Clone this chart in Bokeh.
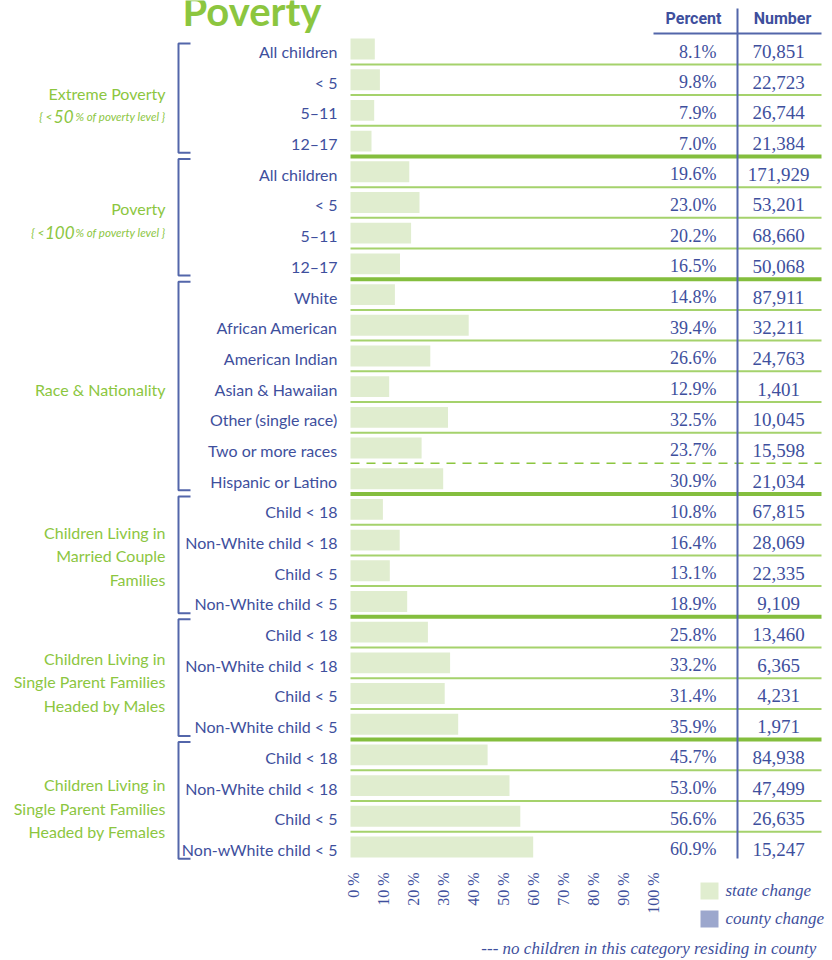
import numpy as np
from bokeh.plotting import figure
from bokeh.models import Range1d
from bokeh.core.properties import value
from bokeh.embed import file_html
from bokeh.resources import INLINE

# ---------------- data ----------------
categories = [
    "All children", "< 5", "5\u201311", "12\u201317",
    "All children", "< 5", "5\u201311", "12\u201317",
    "White", "African American", "American Indian", "Asian & Hawaiian",
    "Other (single race)", "Two or more races", "Hispanic or Latino",
    "Child < 18", "Non-White child < 18", "Child < 5", "Non-White child < 5",
    "Child < 18", "Non-White child < 18", "Child < 5", "Non-White child < 5",
    "Child < 18", "Non-White child < 18", "Child < 5", "Non-wWhite child < 5",
]
state_pct = [
    8.1, 9.8, 7.9, 7.0,
    19.6, 23.0, 20.2, 16.5,
    14.8, 39.4, 26.6, 12.9, 32.5, 23.7, 30.9,
    10.8, 16.4, 13.1, 18.9,
    25.8, 33.2, 31.4, 35.9,
    45.7, 53.0, 56.6, 60.9,
]
child_counts = [
    70851, 22723, 26744, 21384,
    171929, 53201, 68660, 50068,
    87911, 32211, 24763, 1401, 10045, 15598, 21034,
    67815, 28069, 22335, 9109,
    13460, 6365, 4231, 1971,
    84938, 47499, 26635, 15247,
]
group_first = [0, 4, 8, 15, 19, 23]
group_last = [3, 7, 14, 18, 22, 26]
group_lines = [
    ["Extreme Poverty"],
    ["Poverty"],
    ["Race & Nationality"],
    ["Children Living in", "Married Couple", "Families"],
    ["Children Living in", "Single Parent Families", "Headed by Males"],
    ["Children Living in", "Single Parent Families", "Headed by Females"],
]
group_sub_numbers = ["50", "100"]
dashed_after = ["Two or more races"]
tick_values = [0, 10, 20, 30, 40, 50, 60, 70, 80, 90, 100]
tick_labels = [f"{t} %" for t in tick_values]
legend_labels = ["state change", "county change"]
footnote = "---  no children in this category residing in county"

# ---------------- style ----------------
GREEN = "#8cc63f"
GREEN_THIN = "#a5d26c"
GREEN_THICK = "#84be3e"
BAR = "#e0edcf"
COUNTY = "#9ca7cd"
BLUE = "#3e4f9d"
BLUE_LINE = "#5366aa"
SANS = value("Lato")
SERIF = value("Liberation Serif")
HEAD = value("Roboto")

W, H = 832, 960
ROW = 30.69


def PX(ix):
    return (ix - 350) / 3.0


def PY(iy):
    return (iy - 51) / ROW


p = figure(width=W, height=H, output_backend="svg", toolbar_location=None,
           x_axis_type=None, y_axis_type=None, min_border=0,
           x_range=Range1d(PX(0), PX(W)),
           y_range=Range1d(PY(H), PY(0)))
p.outline_line_color = None
p.background_fill_color = "white"
p.border_fill_color = "white"

n = len(categories)
rows = np.arange(n)

# title and headers
p.text(x=[PX(182)], y=[PY(10)], text=["Poverty"], text_font=SANS,
       text_font_size="40px", text_font_style="bold", text_color=GREEN,
       text_align="left", text_baseline="middle")
p.text(x=[PX(693), PX(782)], y=[PY(18), PY(18)], text=["Percent", "Number"],
       text_font=HEAD, text_font_size="16px", text_font_style="bold",
       text_color=BLUE, text_align="center", text_baseline="middle")

# bars
p.hbar(y=rows - 0.08, left=0, right=state_pct, height=0.68,
       fill_color=BAR, line_color=None)

# separators
thin_y, thick_y, dash_y = [], [], []
for r in range(n - 1):
    yy = r + 0.42
    if r in group_last:
        thick_y.append(yy)
    elif categories[r] in dashed_after:
        dash_y.append(yy)
    else:
        thin_y.append(yy)
x_left, x_right = PX(350), PX(821)
p.segment(x0=[x_left] * len(thin_y), x1=[x_right] * len(thin_y), y0=thin_y, y1=thin_y,
          line_color=GREEN_THIN, line_width=2)
p.segment(x0=[x_left] * len(thick_y), x1=[x_right] * len(thick_y), y0=thick_y, y1=thick_y,
          line_color=GREEN_THICK, line_width=4)
p.segment(x0=[x_left] * len(dash_y), x1=[x_right] * len(dash_y), y0=dash_y, y1=dash_y,
          line_color=GREEN, line_width=1.5, line_dash="9 7")

# table lines
p.segment(x0=[PX(737)], x1=[PX(737)], y0=[PY(8)], y1=[PY(858)],
          line_color=BLUE_LINE, line_width=2)
p.segment(x0=[PX(653)], x1=[PX(821)], y0=[PY(33)], y1=[PY(33)],
          line_color=BLUE_LINE, line_width=2)

# row labels
p.text(x=[PX(337)] * n, y=rows, text=categories, text_font=SANS,
       text_font_size="16px", text_color=BLUE, text_align="right",
       text_baseline="middle")

# table values
p.text(x=[PX(716)] * n, y=rows, text=[f"{v:.1f}%" for v in state_pct],
       text_font=SERIF, text_font_size="18px", text_color=BLUE,
       text_align="right", text_baseline="middle")
p.text(x=[PX(778)] * n, y=rows, text=[f"{c:,}" for c in child_counts],
       text_font=SERIF, text_font_size="19px", text_color=BLUE,
       text_align="center", text_baseline="middle")

# brackets
bxs, bys = [], []
for a, b in zip(group_first, group_last):
    top = a - 0.5 if a > 0 else a - 0.26
    bot = b + 0.3
    bxs.append([PX(190), PX(178), PX(178), PX(190)])
    bys.append([top, top, bot, bot])
p.multi_line(xs=bxs, ys=bys, line_color=BLUE_LINE, line_width=2)

# group labels
line_gap = 23.5 / ROW
center_shift = [0.24, 0.0, 0.0, -0.07, 0.03, 0.16]
gx, gy, gt = [], [], []
sub_y = []
for gi, (a, b) in enumerate(zip(group_first, group_last)):
    lines = group_lines[gi]
    nl = len(lines) + (1 if gi < len(group_sub_numbers) else 0)
    c = (a + b) / 2 + center_shift[gi]
    for li in range(nl):
        yy = c + (li - (nl - 1) / 2) * line_gap
        if li < len(lines):
            gx.append(PX(165))
            gy.append(yy)
            gt.append(lines[li])
        else:
            sub_y.append(yy)
p.text(x=gx, y=gy, text=gt, text_font=SANS, text_font_size="16px",
       text_color=GREEN, text_align="right", text_baseline="middle")

num_right = [PX(73), PX(74)]
pre_right = [PX(52), PX(44)]
p.text(x=[PX(75)] * len(sub_y), y=sub_y, text=["% of poverty level }"] * len(sub_y),
       text_font=SANS, text_font_size="11.5px", text_font_style="italic",
       text_color=GREEN, text_align="left", text_baseline="middle")
p.text(x=num_right, y=sub_y, text=group_sub_numbers,
       text_font=SANS, text_font_size="17px", text_font_style="italic",
       text_color=GREEN, text_align="right", text_baseline="middle")
p.text(x=pre_right, y=sub_y, text=["{ <"] * len(sub_y),
       text_font=SANS, text_font_size="12px", text_font_style="italic",
       text_color=GREEN, text_align="right", text_baseline="middle")

# tick labels (rotated)
p.text(x=tick_values, y=[PY(872)] * len(tick_values), text=tick_labels,
       angle=np.pi / 2, x_offset=3, text_font=SERIF, text_font_size="16px",
       text_color=BLUE, text_align="right", text_baseline="middle")

# legend
p.quad(left=[PX(700), PX(700)], right=[PX(718), PX(718)],
       top=[PY(882), PY(910)], bottom=[PY(899), PY(927)],
       fill_color=[BAR, COUNTY], line_color=None)
p.text(x=[PX(725), PX(725)], y=[PY(890), PY(918)], text=legend_labels,
       text_font=SERIF, text_font_size="17px", text_font_style="italic",
       text_color=BLUE, text_align="left", text_baseline="middle")
p.text(x=[PX(820)], y=[PY(948)], text=[footnote], text_font=SERIF,
       text_font_size="17px", text_font_style="italic", text_color=BLUE,
       text_align="right", text_baseline="middle")

open("out.html", "w").write(file_html(p, INLINE))
